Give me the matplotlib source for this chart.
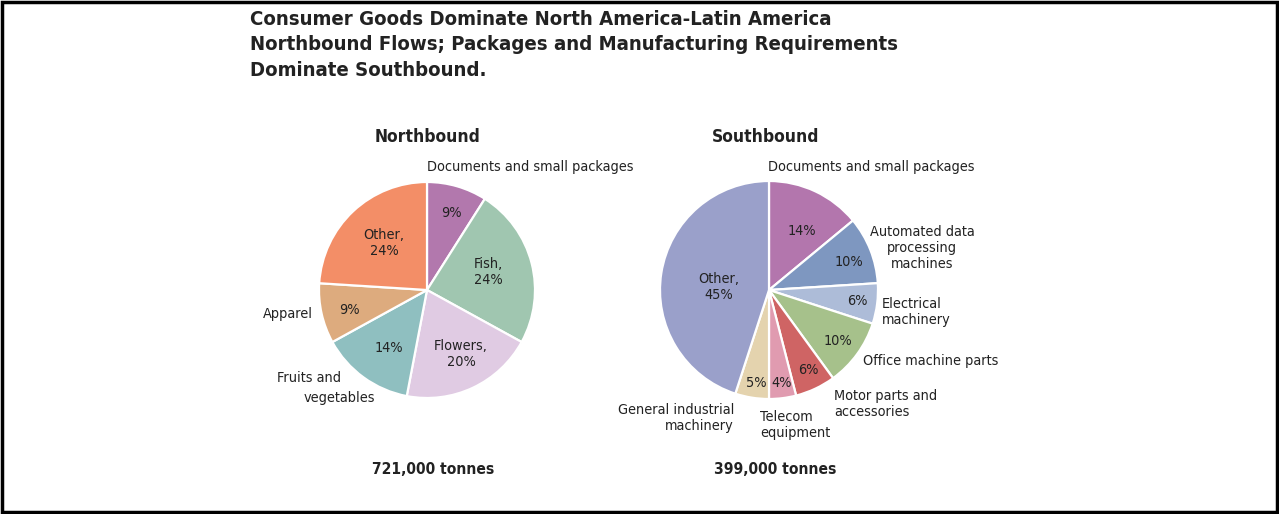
import matplotlib.pyplot as plt
from matplotlib.patches import Rectangle

plt.rcParams['font.family'] = ['DejaVu Sans']
plt.rcParams['font.stretch'] = 'condensed'

W, H = 1279, 514

title = ("Consumer Goods Dominate North America-Latin America\n"
         "Northbound Flows; Packages and Manufacturing Requirements\n"
         "Dominate Southbound.")

north_names = ["Documents and small packages", "Fish", "Flowers",
               "Fruits and vegetables", "Apparel", "Other"]
north_share = [9, 24, 20, 14, 9, 24]
north_colors = ["#b278ad", "#a0c6b0", "#e0cbe3", "#8fbfc0", "#ddab7e", "#f38e67"]
north_total = "721,000 tonnes"

south_names = ["Documents and small packages", "Automated data processing machines",
               "Electrical machinery", "Office machine parts", "Motor parts and accessories",
               "Telecom equipment", "General industrial machinery", "Other"]
south_share = [14, 10, 6, 10, 6, 4, 5, 45]
south_colors = ["#b376ad", "#7e97c0", "#adbcd8", "#a6c18b", "#cf6464", "#e09bb0",
                "#e4d3ae", "#9aa0ca"]
south_total = "399,000 tonnes"

fig = plt.figure(figsize=(W / 100, H / 100), dpi=100)
ax = fig.add_axes([0, 0, 1, 1])


def Y(py):
    # pixel row from the top -> data y
    return H - py


def txt(x, y, s, **kw):
    kw.setdefault('fontsize', 10.4)
    kw.setdefault('ha', 'center')
    kw.setdefault('va', 'center')
    kw.setdefault('color', '#222222')
    ax.text(x, Y(y), s, **kw)


wp = dict(edgecolor='white', linewidth=1.6)
ax.pie(north_share, colors=north_colors, startangle=90, counterclock=False,
       center=(427, Y(290)), radius=108, wedgeprops=wp, frame=True)
ax.pie(south_share, colors=south_colors, startangle=90, counterclock=False,
       center=(769, Y(290)), radius=109, wedgeprops=wp, frame=True)
ax.set_xlim(0, W)
ax.set_ylim(0, H)
ax.set_aspect('equal')
ax.axis('off')

# title
ax.text(250, Y(10), title, fontsize=14.6, fontweight='bold', ha='left', va='top',
        color='#222222', linespacing=1.42)

# sub headings
txt(427, 137, "Northbound", fontsize=12.5, fontweight='bold')
txt(766, 137, "Southbound", fontsize=12.5, fontweight='bold')
txt(433, 470, north_total, fontsize=11.2, fontweight='bold')
txt(775, 470, south_total, fontsize=11.2, fontweight='bold')

# northbound labels
txt(451, 213, f"{north_share[0]}%")
txt(488, 272, f"{north_names[1]},\n{north_share[1]}%")
txt(461, 354, f"{north_names[2]},\n{north_share[2]}%")
txt(389, 348, f"{north_share[3]}%")
txt(349, 310, f"{north_share[4]}%")
txt(384, 243, f"{north_names[5]},\n{north_share[5]}%")
txt(427, 167, north_names[0], ha='left')
txt(313, 314, north_names[4], ha='right')
txt(277, 378, "Fruits and", ha='left')
txt(304, 398, "vegetables", ha='left')

# southbound labels
txt(802, 231, f"{south_share[0]}%")
txt(849, 262, f"{south_share[1]}%")
txt(857, 301, f"{south_share[2]}%")
txt(838, 341, f"{south_share[3]}%")
txt(808, 370, f"{south_share[4]}%")
txt(782, 383, f"{south_share[5]}%")
txt(756, 383, f"{south_share[6]}%")
txt(719, 287, f"{south_names[7]},\n{south_share[7]}%")
txt(768, 167, south_names[0], ha='left')
txt(922, 248, "Automated data\nprocessing\nmachines")
txt(882, 312, "Electrical\nmachinery", ha='left')
txt(863, 361, south_names[3], ha='left')
txt(834, 404, "Motor parts and\naccessories", ha='left')
txt(760, 425, "Telecom\nequipment", ha='left')
txt(734, 418, "General industrial\nmachinery", ha='right', multialignment='right')

# frame round the whole picture
fig.patches.append(Rectangle((0.0015, 0.004), 0.997, 0.992, transform=fig.transFigure,
                             fill=False, edgecolor='black', linewidth=2.5))

fig.savefig('out.png', dpi=100)
